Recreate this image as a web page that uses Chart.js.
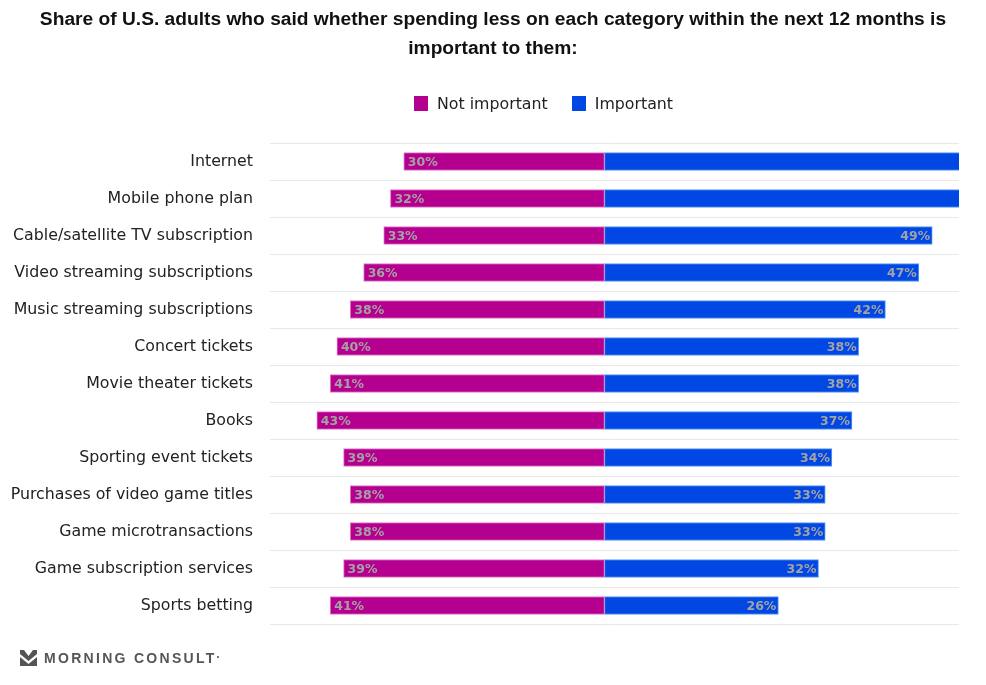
<!DOCTYPE html>
<html>
<head>
<meta charset="utf-8">
<script src="https://cdn.jsdelivr.net/npm/chart.js@4.4.1/dist/chart.umd.min.js"></script>
<style>
  html, body { margin: 0; padding: 0; background: #fff; }
  #wrap { position: relative; width: 986px; height: 685px; }
  #title {
    position: absolute; top: 4px; left: 0; width: 986px; text-align: center;
    font-family: "Liberation Sans", Arial, sans-serif; font-weight: bold;
    font-size: 19.2px; line-height: 29px; color: #111;
  }
  #legend {
    position: absolute; top: 94px; left: 414px;
    display: flex; align-items: center;
    font-family: "DejaVu Sans", sans-serif; font-size: 15.8px; color: #222;
  }
  #legend span.box { display: inline-block; width: 14px; height: 15px; margin-right: 9px; }
  #legend span.item { display: flex; align-items: center; margin-right: 24px; }
  #logo {
    position: absolute; left: 20px; top: 650px;
    display: flex; align-items: center;
    font-family: "Liberation Sans", Arial, sans-serif; font-weight: bold;
    font-size: 14px; letter-spacing: 2.3px; color: #555;
  }
  #logo svg { margin-right: 7px; }
  #logo sup { font-size: 7px; letter-spacing: 0; position: relative; top: -2px; }
</style>
</head>
<body>
<div id="wrap">
  <canvas id="chart" width="986" height="685"></canvas>
  <div id="title">Share of U.S. adults who said whether spending less on each category within the next 12 months is<br>important to them:</div>
  <div id="legend">
    <span class="item"><span class="box" style="background:#b5008f"></span>Not important</span>
    <span class="item"><span class="box" style="background:#0047e3"></span>Important</span>
  </div>
  <div id="logo">
    <svg width="17" height="16" viewBox="0 0 17 16">
      <polygon points="0,0 4,0 8.5,6 13,0 17,0 17,4 8.5,11 0,4" fill="#555"/>
      <polygon points="0,7 8.5,14 17,7 17,16 13,16 8.5,16 4,16 0,16" fill="#555"/>
    </svg>
    MORNING CONSULT<sup>&#8226;</sup>
  </div>
</div>
<script>
const categories = [
  'Internet',
  'Mobile phone plan',
  'Cable/satellite TV subscription',
  'Video streaming subscriptions',
  'Music streaming subscriptions',
  'Concert tickets',
  'Movie theater tickets',
  'Books',
  'Sporting event tickets',
  'Purchases of video game titles',
  'Game microtransactions',
  'Game subscription services',
  'Sports betting'
];
const notImportant = [30, 32, 33, 36, 38, 40, 41, 43, 39, 38, 38, 39, 41];
const important = [57, 55, 49, 47, 42, 38, 38, 37, 34, 33, 33, 32, 26];

const xMin = -50;
const xMax = 53;

const barLabels = {
  id: 'barLabels',
  afterDatasetsDraw(chart) {
    const ctx = chart.ctx;
    ctx.save();
    ctx.font = 'bold 12.5px "DejaVu Sans", sans-serif';
    ctx.fillStyle = '#a3a3a3';
    ctx.textBaseline = 'middle';
    chart.data.datasets.forEach((ds, di) => {
      const meta = chart.getDatasetMeta(di);
      meta.data.forEach((bar, i) => {
        const v = ds.data[i];
        if (v < xMin || v > xMax) return;
        const txt = Math.abs(v) + '%';
        if (v < 0) {
          ctx.textAlign = 'left';
          ctx.fillText(txt, bar.x + 4, bar.y + 1);
        } else {
          ctx.textAlign = 'right';
          ctx.fillText(txt, bar.x - 2, bar.y + 1);
        }
      });
    });
    ctx.restore();
  }
};

new Chart(document.getElementById('chart'), {
  type: 'bar',
  data: {
    labels: categories,
    datasets: [
      {
        label: 'Not important',
        data: notImportant.map(v => -v),
        backgroundColor: '#b5008f',
        borderColor: '#e27ccb',
        borderWidth: 1,
        borderSkipped: false,
        barThickness: 18
      },
      {
        label: 'Important',
        data: important,
        backgroundColor: '#0047e3',
        borderColor: '#5a9cf5',
        borderWidth: 1,
        borderSkipped: false,
        barThickness: 18
      }
    ]
  },
  options: {
    indexAxis: 'y',
    responsive: false,
    animation: false,
    layout: { padding: { left: 0, right: 27, top: 143, bottom: 61 } },
    scales: {
      x: {
        display: false,
        stacked: true,
        min: xMin,
        max: xMax
      },
      y: {
        stacked: true,
        border: { display: false },
        grid: { color: '#e8e8e8', drawTicks: false },
        ticks: {
          padding: 17,
          color: '#222',
          font: { family: '"DejaVu Sans", sans-serif', size: 15.8 }
        },
        afterFit(scale) { scale.width = 270; }
      }
    },
    plugins: {
      legend: { display: false },
      tooltip: { enabled: false },
      title: { display: false }
    }
  },
  plugins: [barLabels]
});
</script>
</body>
</html>
